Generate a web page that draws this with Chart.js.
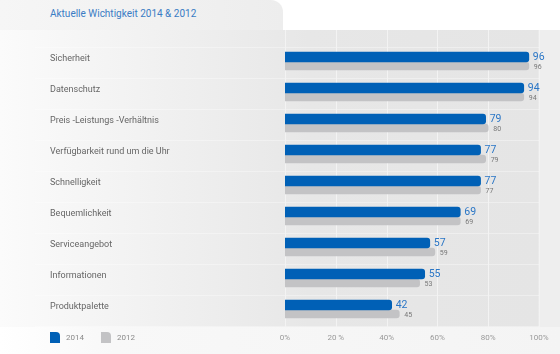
<!DOCTYPE html>
<html><head><meta charset="utf-8">
<script src="https://cdn.jsdelivr.net/npm/chart.js@4/dist/chart.umd.min.js"></script>
<style>
html,body{margin:0;padding:0;}
body{width:560px;height:354px;position:relative;overflow:hidden;background:#fff;font-family:Roboto, sans-serif;}
#tab{position:absolute;left:0;top:0;width:283px;height:30px;background:linear-gradient(to right,#f6f6f6,#ededed);border-top-right-radius:12px;}
#title{position:absolute;left:50px;top:8px;font-size:10px;color:#3a7cc4;white-space:nowrap;}
#panel{position:absolute;left:0;top:30px;width:560px;height:297px;background:linear-gradient(to right,#fbfbfb 0%,#f0f0f0 30%,#e7e7e7 55%,#e5e5e5 96%,#eeeeee 96.3%,#eeeeee 100%);}
#foot{position:absolute;left:0;top:327px;width:560px;height:27px;background:linear-gradient(to right,#ffffff 0%,#f8f8f8 20%,#f4f4f4 100%);}
#wrap{position:absolute;left:0;top:0;width:560px;height:354px;}
</style></head>
<body>
<div id="tab"></div><div id="panel"></div><div id="foot"></div>
<div id="title">Aktuelle Wichtigkeit 2014 &amp; 2012</div>
<div id="wrap"><canvas id="c" width="560" height="354"></canvas></div>
<script>
const categories = ["Sicherheit","Datenschutz","Preis -Leistungs -Verhältnis","Verfügbarkeit rund um die Uhr","Schnelligkeit","Bequemlichkeit","Serviceangebot","Informationen","Produktpalette"];
const values2014 = [96,94,79,77,77,69,57,55,42];
const values2012 = [96,94,80,79,77,69,59,53,45];
const seriesNames = ["2014","2012"];
const tickLabels = ["0%","20 %","40%","60%","80%","100%"];

const BLUE = "#0060b6";
const GREY = "#c3c3c5";

const decor = {
  id: 'decor',
  beforeDatasetsDraw(chart) {
    const ctx = chart.ctx, xs = chart.scales.x, ys = chart.scales.y;
    ctx.save();
    ctx.strokeStyle = 'rgba(255,255,255,0.35)';
    ctx.lineWidth = 1;
    for (let i = 0; i <= categories.length; i++) {
      let y;
      if (i === 0) y = chart.chartArea.top;
      else if (i === categories.length) y = chart.chartArea.bottom;
      else y = (ys.getPixelForValue(i - 1) + ys.getPixelForValue(i)) / 2;
      y = Math.round(y) + 0.5;
      ctx.beginPath(); ctx.moveTo(35, y); ctx.lineTo(xs.right, y); ctx.stroke();
    }
    ctx.strokeStyle = '#f3f3f3';
    xs.ticks.forEach(t => {
      const x = Math.round(xs.getPixelForValue(t.value)) + 0.5;
      ctx.beginPath(); ctx.moveTo(x, 30); ctx.lineTo(x, 327); ctx.stroke();
    });
    ctx.restore();
  },
  afterDatasetsDraw(chart) {
    const ctx = chart.ctx;
    ctx.save();
    ctx.textBaseline = 'middle';
    ctx.textAlign = 'left';
    const m0 = chart.getDatasetMeta(0), m1 = chart.getDatasetMeta(1);
    m0.data.forEach((el, i) => {
      ctx.font = '10.5px Roboto';
      ctx.fillStyle = '#2a76c6';
      ctx.fillText(String(values2014[i]), el.x + 4, el.y);
    });
    m1.data.forEach((el, i) => {
      ctx.font = '7px Roboto';
      ctx.fillStyle = '#777';
      ctx.fillText(String(values2012[i]), el.x + 5, el.y + 1);
    });
    const items = [{x:50, c:BLUE, t:seriesNames[0]}, {x:101, c:GREY, t:seriesNames[1]}];
    items.forEach(it => {
      const x = it.x, y = 332, w = 10, h = 11;
      ctx.fillStyle = it.c;
      ctx.beginPath();
      ctx.moveTo(x, y);
      ctx.lineTo(x + w - 4, y);
      ctx.quadraticCurveTo(x + w, y, x + w, y + 4);
      ctx.lineTo(x + w, y + h);
      ctx.lineTo(x, y + h);
      ctx.closePath();
      ctx.fill();
      ctx.font = '8px Roboto';
      ctx.fillStyle = '#8a8a8a';
      ctx.fillText(it.t, x + 16, y + 6);
    });
    ctx.restore();
  }
};

new Chart(document.getElementById('c'), {
  type: 'bar',
  data: {
    labels: categories,
    datasets: [
      { label: seriesNames[0], data: values2014, backgroundColor: BLUE, barThickness: 10, borderRadius: 3, borderSkipped: 'start' },
      { label: seriesNames[1], data: values2012, backgroundColor: GREY, barThickness: 8, borderRadius: 3, borderSkipped: 'start' }
    ]
  },
  options: {
    indexAxis: 'y',
    responsive: false,
    animation: false,
    devicePixelRatio: 1,
    layout: { padding: { top: 46.5, left: 50, right: 21, bottom: 0 } },
    plugins: { legend: { display: false }, tooltip: { enabled: false } },
    scales: {
      x: {
        min: 0, max: 100,
        grid: { display: false, drawTicks: false },
        border: { display: false },
        afterFit(s) { s.height = 28.5; },
        ticks: {
          stepSize: 20, padding: 8,
          color: '#9a9a9a', font: { family: 'Roboto', size: 8 },
          callback: (v, i) => tickLabels[i]
        }
      },
      y: {
        grid: { display: false, drawTicks: false },
        border: { display: false },
        afterFit(s) { s.width = 235; },
        ticks: {
          crossAlign: 'far', labelOffset: -3, padding: 0,
          color: '#666666', font: { family: 'Roboto', size: 9 }
        }
      }
    }
  },
  plugins: [decor]
});
</script>
</body></html>
